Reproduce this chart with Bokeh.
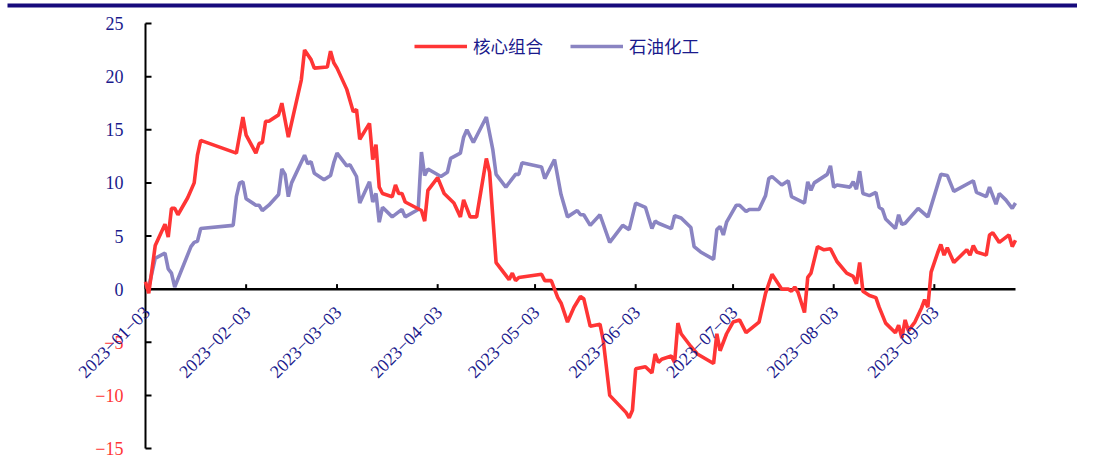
import math
import pandas as pd
from bokeh.plotting import figure
from bokeh.models import Range1d, LabelSet, ColumnDataSource, Legend, LegendItem
from bokeh.embed import file_html
from bokeh.resources import INLINE

# ---------------- data ----------------
core_dates = [
    "2023-01-03", "2023-01-04", "2023-01-06", "2023-01-09", "2023-01-10", "2023-01-11",
    "2023-01-12", "2023-01-13", "2023-01-16", "2023-01-18", "2023-01-19", "2023-01-20",
    "2023-01-31", "2023-02-02", "2023-02-03", "2023-02-06", "2023-02-07", "2023-02-08",
    "2023-02-09", "2023-02-10", "2023-02-13", "2023-02-14", "2023-02-16", "2023-02-20",
    "2023-02-21", "2023-02-23", "2023-02-24", "2023-02-28", "2023-03-01", "2023-03-02",
    "2023-03-03", "2023-03-06", "2023-03-08", "2023-03-09", "2023-03-10", "2023-03-13",
    "2023-03-14", "2023-03-15", "2023-03-16", "2023-03-17", "2023-03-20", "2023-03-21",
    "2023-03-22", "2023-03-23", "2023-03-24", "2023-03-29", "2023-03-30", "2023-03-31",
    "2023-04-03", "2023-04-05", "2023-04-08", "2023-04-10", "2023-04-11", "2023-04-13",
    "2023-04-15", "2023-04-18", "2023-04-19", "2023-04-21", "2023-04-25", "2023-04-26",
    "2023-04-27", "2023-04-28", "2023-05-05", "2023-05-06", "2023-05-08", "2023-05-10",
    "2023-05-11", "2023-05-13", "2023-05-15", "2023-05-17", "2023-05-18", "2023-05-20",
    "2023-05-23", "2023-05-24", "2023-05-26", "2023-05-31", "2023-06-01", "2023-06-02",
    "2023-06-03", "2023-06-06", "2023-06-08", "2023-06-09", "2023-06-10", "2023-06-11",
    "2023-06-14", "2023-06-15", "2023-06-16", "2023-06-17", "2023-06-20", "2023-06-22",
    "2023-06-27", "2023-06-28", "2023-06-29", "2023-07-01", "2023-07-03", "2023-07-05",
    "2023-07-07", "2023-07-11", "2023-07-13", "2023-07-15", "2023-07-18", "2023-07-20",
    "2023-07-21", "2023-07-22", "2023-07-23", "2023-07-25", "2023-07-26", "2023-07-27",
    "2023-07-29", "2023-07-31", "2023-08-02", "2023-08-04", "2023-08-07", "2023-08-09",
    "2023-08-10", "2023-08-11", "2023-08-12", "2023-08-14", "2023-08-16", "2023-08-17",
    "2023-08-19", "2023-08-22", "2023-08-23", "2023-08-24", "2023-08-25", "2023-08-26",
    "2023-08-28", "2023-08-30", "2023-08-31", "2023-09-01", "2023-09-02", "2023-09-04",
    "2023-09-05", "2023-09-06", "2023-09-07", "2023-09-09", "2023-09-13", "2023-09-14",
    "2023-09-15", "2023-09-16", "2023-09-19", "2023-09-20", "2023-09-21", "2023-09-23",
    "2023-09-26", "2023-09-27", "2023-09-28",
]
core_values = [
    0.7, -0.4, 4.1, 6.1, 4.9, 7.6,
    7.6, 7.0, 8.6, 10.0, 12.6, 14.0,
    12.8, 16.2, 14.5, 12.8, 13.7, 13.8,
    15.8, 15.8, 16.4, 17.5, 14.3, 19.7,
    22.5, 21.6, 20.8, 20.9, 22.4, 21.3,
    20.8, 18.8, 16.7, 16.9, 14.1, 15.6,
    12.2, 13.6, 9.6, 9.0, 8.7, 9.8,
    9.0, 9.0, 8.2, 7.4, 6.4, 9.3,
    10.5, 9.0, 8.1, 6.8, 8.4, 6.8,
    6.8, 12.3, 11.0, 2.5, 0.9, 1.5,
    0.8, 1.1, 1.4, 0.8, 0.8, -0.8,
    -1.3, -3.1, -1.7, -0.7, -0.9, -3.5,
    -3.3, -4.8, -10.0, -11.6, -12.1, -11.4,
    -7.5, -7.3, -7.9, -6.1, -6.9, -6.6,
    -6.3, -6.9, -3.2, -4.2, -5.4, -6.1,
    -7.0, -4.2, -5.8, -4.2, -3.1, -2.9,
    -4.1, -3.1, -0.4, 1.4, 0.0, 0.0,
    -0.2, 0.2, -0.3, -2.2, 1.1, 1.5,
    4.0, 3.7, 3.8, 2.6, 1.5, 1.2,
    0.5, 2.5, -0.2, -0.6, -0.8, -1.7,
    -3.2, -4.1, -3.4, -4.6, -2.9, -3.9,
    -3.1, -1.8, -1.0, -1.7, 1.6, 3.4,
    4.2, 3.2, 3.9, 2.5, 3.7, 3.2,
    4.1, 3.5, 3.2, 5.1, 5.3, 4.4,
    5.1, 4.0, 4.6,
]

petro_dates = [
    "2023-01-03", "2023-01-04", "2023-01-06", "2023-01-09", "2023-01-10", "2023-01-11",
    "2023-01-12", "2023-01-17", "2023-01-18", "2023-01-19", "2023-01-20", "2023-01-30",
    "2023-01-31", "2023-02-01", "2023-02-02", "2023-02-03", "2023-02-06", "2023-02-07",
    "2023-02-08", "2023-02-10", "2023-02-13", "2023-02-14", "2023-02-15", "2023-02-16",
    "2023-02-17", "2023-02-21", "2023-02-22", "2023-02-23", "2023-02-24", "2023-02-27",
    "2023-03-01", "2023-03-02", "2023-03-03", "2023-03-06", "2023-03-07", "2023-03-09",
    "2023-03-10", "2023-03-13", "2023-03-14", "2023-03-15", "2023-03-16", "2023-03-17",
    "2023-03-20", "2023-03-23", "2023-03-24", "2023-03-28", "2023-03-29", "2023-03-30",
    "2023-03-31", "2023-04-04", "2023-04-06", "2023-04-07", "2023-04-10", "2023-04-11",
    "2023-04-12", "2023-04-14", "2023-04-18", "2023-04-20", "2023-04-21", "2023-04-24",
    "2023-04-27", "2023-04-28", "2023-04-29", "2023-05-05", "2023-05-06", "2023-05-09",
    "2023-05-11", "2023-05-13", "2023-05-16", "2023-05-17", "2023-05-18", "2023-05-20",
    "2023-05-23", "2023-05-26", "2023-05-30", "2023-06-01", "2023-06-03", "2023-06-06",
    "2023-06-08", "2023-06-09", "2023-06-10", "2023-06-14", "2023-06-15", "2023-06-17",
    "2023-06-20", "2023-06-21", "2023-06-23", "2023-06-27", "2023-06-28", "2023-06-29",
    "2023-06-30", "2023-07-01", "2023-07-04", "2023-07-05", "2023-07-07", "2023-07-08",
    "2023-07-11", "2023-07-13", "2023-07-14", "2023-07-15", "2023-07-18", "2023-07-20",
    "2023-07-21", "2023-07-25", "2023-07-26", "2023-07-27", "2023-07-28", "2023-08-01",
    "2023-08-02", "2023-08-03", "2023-08-04", "2023-08-08", "2023-08-09", "2023-08-10",
    "2023-08-11", "2023-08-12", "2023-08-14", "2023-08-16", "2023-08-17", "2023-08-18",
    "2023-08-19", "2023-08-22", "2023-08-23", "2023-08-24", "2023-08-25", "2023-08-29",
    "2023-09-01", "2023-09-05", "2023-09-07", "2023-09-09", "2023-09-15", "2023-09-16",
    "2023-09-19", "2023-09-20", "2023-09-22", "2023-09-23", "2023-09-25", "2023-09-27",
    "2023-09-28",
]
petro_values = [
    0.2, 0.2, 2.9, 3.4, 1.9, 1.5,
    0.2, 4.0, 4.4, 4.5, 5.7, 6.0,
    8.7, 10.0, 10.1, 8.5, 7.9, 7.9,
    7.4, 7.9, 8.9, 11.3, 10.8, 8.7,
    10.0, 12.6, 11.8, 12.0, 10.9, 10.3,
    10.7, 11.9, 12.8, 11.6, 11.7, 10.6,
    8.1, 10.1, 8.2, 9.0, 6.3, 7.7,
    6.8, 7.5, 6.8, 7.5, 12.9, 10.7,
    11.3, 10.6, 11.0, 12.3, 12.8, 14.3,
    15.0, 13.8, 16.2, 13.1, 10.8, 9.6,
    10.8, 10.8, 11.9, 11.5, 10.4, 12.2,
    8.9, 6.8, 7.4, 7.0, 7.0, 6.0,
    7.0, 4.4, 6.0, 5.6, 8.1, 7.7,
    5.7, 6.4, 6.2, 5.7, 6.9, 6.7,
    5.8, 4.0, 3.5, 2.8, 5.6, 5.9,
    5.1, 6.3, 7.9, 7.9, 7.3, 7.5,
    7.5, 8.8, 10.4, 10.6, 9.8, 10.2,
    8.7, 8.1, 10.1, 9.3, 10.0, 10.8,
    11.6, 9.6, 9.8, 9.6, 10.1, 9.4,
    11.1, 9.0, 8.8, 9.1, 7.7, 7.5,
    6.6, 5.7, 7.0, 6.1, 6.2, 7.6,
    6.8, 10.8, 10.7, 9.2, 10.2, 9.1,
    8.7, 9.6, 8.0, 9.0, 8.4, 7.6,
    8.1,
]

series_names = ["核心组合", "石油化工"]
x_tick_labels = ["2023-01-03", "2023-02-03", "2023-03-03", "2023-04-03", "2023-05-03",
                 "2023-06-03", "2023-07-03", "2023-08-03", "2023-09-03"]
y_ticks = [-15, -10, -5, 0, 5, 10, 15, 20, 25]
x_start, x_end = "2023-01-03", "2023-09-28"

# ---------------- layout / styles ----------------
W, H = 1077, 458
PLOT_LEFT, PLOT_W = 145, 870      # axis area in figure pixels
PLOT_TOP, PLOT_H = 23, 425
RED = "#FF3535"
PURPLE = "#8A84C2"
NAVY = "#1A1A8C"
BAR = "#170B7C"
SERIF = "Liberation Serif"
LW = 3.6

core_x = pd.to_datetime(core_dates)
petro_x = pd.to_datetime(petro_dates)
tick_x = pd.to_datetime(x_tick_labels)
x0 = pd.Timestamp(x_start)
x1 = pd.Timestamp(x_end)
ymin, ymax = min(y_ticks), max(y_ticks)

# the frame covers the whole figure; the axes are drawn inside it
span_x = x1 - x0
view_x0 = x0 - span_x * (PLOT_LEFT / PLOT_W)
view_x1 = x1 + span_x * ((W - PLOT_LEFT - PLOT_W) / PLOT_W)
u = (ymax - ymin) / PLOT_H
view_y1 = ymax + PLOT_TOP * u
view_y0 = ymin - (H - PLOT_TOP - PLOT_H) * u

p = figure(width=W, height=H, output_backend="svg", toolbar_location=None,
           x_axis_type="datetime",
           x_range=Range1d(view_x0, view_x1), y_range=Range1d(view_y0, view_y1))
p.min_border_left = p.min_border_right = p.min_border_top = p.min_border_bottom = 0
p.outline_line_color = None
p.grid.visible = False
p.xaxis.visible = False
p.yaxis.visible = False
p.background_fill_color = "white"
p.border_fill_color = "white"

# top rule (18 px above the top tick, from 7 px in to the right edge)
bar_y = ymax + 18 * u
bar_x0 = x0 - span_x * ((PLOT_LEFT - 7) / PLOT_W)
p.line([bar_x0, view_x1], [bar_y, bar_y], line_color=BAR, line_width=4)

# ---- y axis ----
p.line([x0, x0], [ymin, ymax], line_color="black", line_width=2)
p.ray(x=[x0] * len(y_ticks), y=y_ticks, length=6, length_units="screen",
      angle=0, line_color="black", line_width=2)
ylab_src = ColumnDataSource(dict(
    x=[x0] * len(y_ticks), y=y_ticks,
    text=[str(t) if t >= 0 else "\u2212" + str(-t) for t in y_ticks],
    color=[NAVY if t >= 0 else RED for t in y_ticks]))
p.add_layout(LabelSet(x="x", y="y", text="text", source=ylab_src, x_offset=-22,
                      text_align="right", text_baseline="middle", text_font=SERIF,
                      text_font_size="18px", text_color="color"))

# ---- x axis at zero ----
p.line([x0, x1], [0, 0], line_color="black", line_width=2.5)
p.ray(x=tick_x, y=[0] * len(tick_x), length=5, length_units="screen",
      angle=math.pi / 2, line_color="black", line_width=2)
xlab_src = ColumnDataSource(dict(x=tick_x, y=[0] * len(tick_x),
                                 text=[s.replace("-", "\u2212") for s in x_tick_labels]))
p.add_layout(LabelSet(x="x", y="y", text="text", source=xlab_src, angle=math.pi / 4,
                      x_offset=1, y_offset=-20, text_align="right",
                      text_baseline="middle", text_font=SERIF,
                      text_font_size="18px", text_color=NAVY))

# ---- lines ----
r_petro = p.line(petro_x, petro_values, line_color=PURPLE, line_width=LW)
r_core = p.line(core_x, core_values, line_color=RED, line_width=LW)

legend = Legend(items=[LegendItem(label=series_names[0], renderers=[r_core]),
                       LegendItem(label=series_names[1], renderers=[r_petro])],
                orientation="horizontal", location=(414, 400),
                glyph_width=53, glyph_height=20, label_standoff=6, spacing=27,
                padding=0, margin=0, border_line_alpha=0, background_fill_alpha=0,
                label_text_font="Noto Sans CJK SC", label_text_font_size="17.5px",
                label_text_color=NAVY)
p.add_layout(legend)

open("out.html", "w").write(file_html(p, INLINE))
